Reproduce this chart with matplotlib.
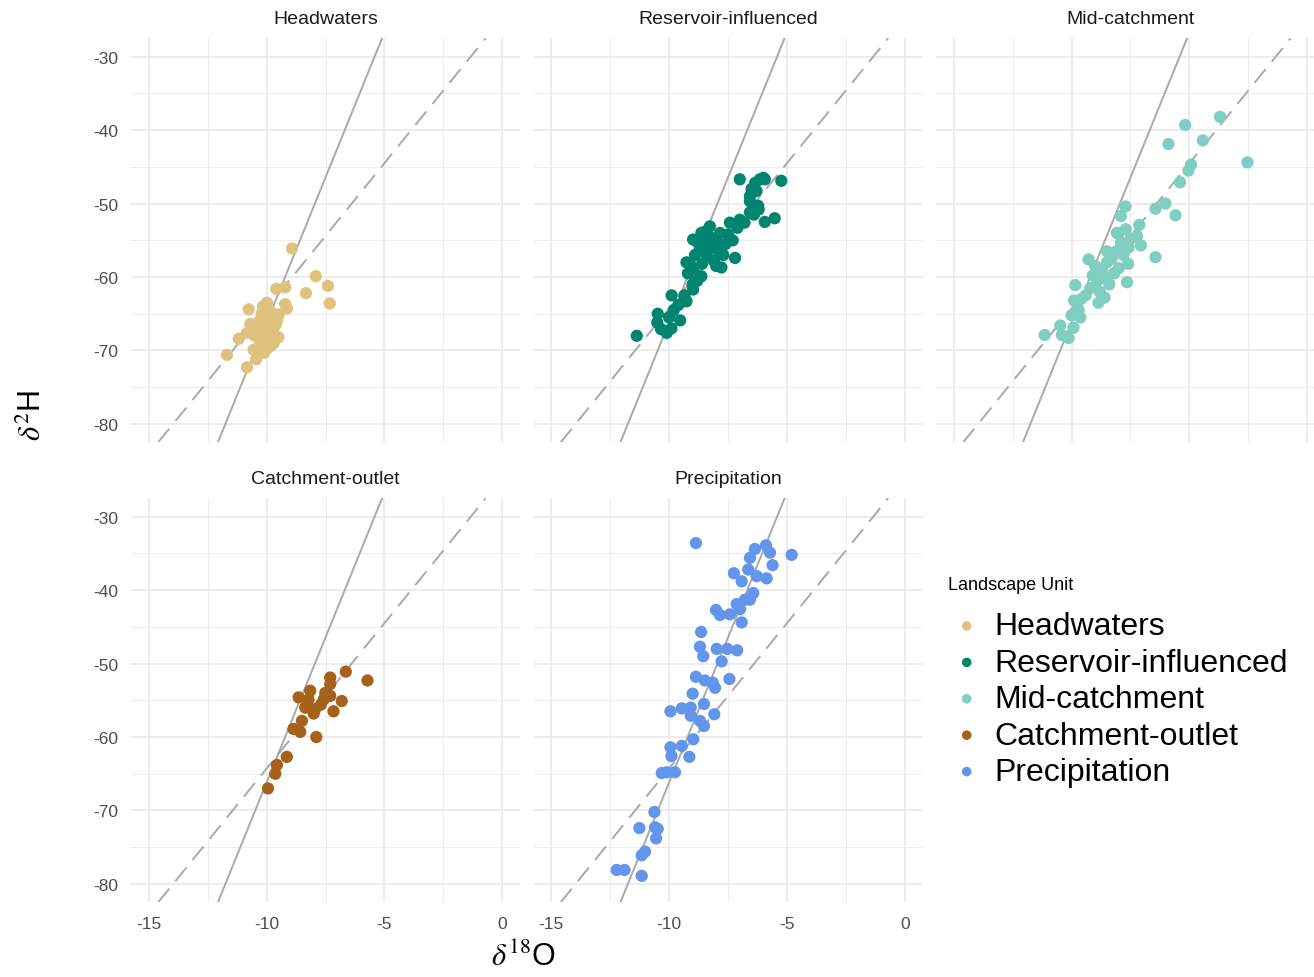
import numpy as np
import matplotlib
matplotlib.use("Agg")
import matplotlib.pyplot as plt
from matplotlib.ticker import MultipleLocator

plt.rcParams['font.family'] = ['Liberation Sans', 'DejaVu Sans']
plt.rcParams['mathtext.fontset'] = 'stix'

# isotope data (d18O, d2H)
hw_x = [-8.92, -7.91, -7.40, -7.32, -8.33, -9.59, -9.21, -9.21, -9.14, -10.76, -9.98, -10.15,
        -11.68, -10.83, -10.44, -11.18, -10.69, -9.56, -9.63, -9.84, -10.55,
        -10.3, -10.1, -9.9, -10.0, -10.4, -10.2, -9.8, -9.7, -9.6, -9.9, -10.5, -10.6,
        -10.3, -10.0, -9.7, -9.5, -10.2, -9.8, -10.4, -10.1, -9.6, -9.98, -9.48, -10.41, -10.83]
hw_y = [-56.1, -59.9, -61.2, -63.6, -62.2, -61.6, -61.4, -63.7, -64.3, -64.4, -63.5, -64.0,
        -70.6, -72.3, -71.2, -68.4, -66.4, -66.0, -68.4, -69.4, -69.9,
        -66.0, -66.8, -67.2, -68.0, -67.5, -68.8, -68.5, -67.0, -66.4, -65.5, -68.0, -67.0,
        -69.3, -69.8, -69.0, -68.2, -65.0, -64.8, -70.0, -70.3, -65.5, -64.7, -65.1, -67.1, -67.6]

res_x = [-11.37, -10.48, -9.89, -10.34, -10.10, -9.53, -9.26, -8.98, -9.26, -8.98, -8.63, -8.27,
         -7.84, -7.42, -7.0, -6.57, -7.0, -6.15, -5.94, -5.24, -6.57, -6.29, -6.57, -6.22,
         -5.94, -5.52, -7.2, -7.78, -8.63, -8.98,
         -8.5, -8.2, -8.0, -7.9, -8.4, -8.7, -8.1, -7.6, -7.5, -8.3, -8.9, -8.6, -7.7, -8.0,
         -7.3, -8.8, -8.45, -9.1, -9.2, -8.8, -9.0, -9.35, -9.6, -9.8, -10.0, -10.5, -9.9,
         -7.1, -6.8, -6.4, -6.2, -6.5, -6.35, -6.0]
res_y = [-68.0, -65.0, -62.5, -67.1, -67.6, -65.9, -63.3, -61.7, -58.0, -54.9, -54.0, -53.1,
         -54.0, -52.6, -52.2, -51.2, -46.7, -46.7, -46.7, -46.9, -49.0, -48.3, -49.7, -50.3,
         -52.5, -52.0, -57.4, -58.7, -59.9, -59.0,
         -55.5, -56.0, -55.0, -56.5, -57.0, -56.2, -57.8, -55.5, -54.2, -54.5, -57.0, -58.2,
         -57.0, -58.5, -55.0, -55.2, -53.8, -58.3, -59.5, -60.5, -61.0, -62.5, -63.8, -64.5,
         -65.5, -66.2, -67.0, -53.3, -52.6, -51.5, -50.8, -48.0, -47.2, -46.5]

mid_x = [-3.70, -5.18, -5.89, -4.43, -2.54, -4.93, -5.04, -5.40, -6.02, -6.44, -5.59, -7.71,
         -7.91, -7.13, -7.23, -7.06, -6.44, -7.58, -7.65, -8.08, -9.84, -9.89, -11.14, -10.48,
         -10.41, -10.13, -9.92, -9.63, -8.86, -9.28,
         -9.0, -8.7, -8.5, -8.3, -8.6, -8.9, -9.2, -8.2, -8.0, -7.8, -8.4, -9.4, -9.6, -8.8,
         -8.1, -7.9, -8.0, -7.7, -7.5, -8.5, -9.1, -9.7, -10.0, -8.6, -7.6]
mid_y = [-38.2, -39.3, -41.9, -41.4, -44.4, -44.7, -45.5, -47.1, -50.0, -50.7, -51.6, -50.4,
         -51.7, -52.9, -54.4, -55.7, -57.3, -56.0, -60.7, -54.0, -61.1, -63.2, -67.9, -66.6,
         -67.9, -68.3, -66.9, -65.5, -63.5, -57.6,
         -58.5, -59.0, -58.0, -57.5, -60.0, -60.5, -61.5, -59.5, -58.8, -57.0, -61.0, -62.5,
         -63.0, -62.0, -56.5, -55.3, -54.0, -53.5, -54.8, -56.5, -59.8, -64.5, -65.2, -62.8, -58.2]

out_x = [-6.64, -5.72, -7.30, -7.30, -8.64, -8.15, -8.22, -7.94, -7.51, -7.30, -6.81, -7.16,
         -7.58, -8.36, -8.50, -8.86, -8.57, -7.89, -9.14, -9.56, -9.63, -9.94, -8.0, -7.7]
out_y = [-51.1, -52.3, -51.9, -52.8, -54.6, -53.7, -54.9, -56.2, -54.0, -54.4, -55.1, -56.5,
         -54.9, -56.0, -57.8, -58.9, -59.3, -60.0, -62.7, -63.8, -65.0, -67.0, -56.8, -55.6]

pre_x = [-8.86, -5.89, -6.36, -5.72, -4.80, -6.57, -5.61, -6.64, -7.25, -6.92, -6.28, -5.86,
         -6.43, -6.57, -6.78, -7.13, -6.99, -8.01, -7.84, -7.42, -6.92, -8.64, -8.69, -8.55,
         -7.98, -7.53, -7.11, -7.77, -8.86, -8.48, -8.15, -8.05, -7.44, -9.0, -9.94, -9.46,
         -9.08, -9.08, -8.52, -8.69, -8.52, -8.08, -8.97, -9.94, -9.90, -9.46, -9.14, -10.31,
         -10.10, -9.75, -10.62, -11.26, -10.59, -10.48, -10.55, -11.02, -11.16, -12.22,
         -11.89, -11.16]
pre_y = [-33.6, -33.9, -34.4, -34.9, -35.2, -35.6, -36.6, -37.2, -37.7, -38.8, -38.1, -38.4,
         -40.4, -41.3, -41.3, -41.9, -42.6, -42.7, -43.4, -43.3, -44.4, -45.7, -47.7, -49.0,
         -48.0, -48.0, -48.2, -49.7, -51.8, -52.3, -52.6, -53.3, -52.1, -54.1, -56.5, -56.1,
         -56.0, -57.1, -55.5, -57.8, -58.5, -56.9, -60.3, -61.4, -62.6, -61.2, -62.7, -64.9,
         -64.8, -64.8, -70.2, -72.4, -72.3, -72.5, -73.8, -75.6, -76.1, -78.1, -78.1, -78.9]

units = ["Headwaters", "Reservoir-influenced", "Mid-catchment", "Catchment-outlet", "Precipitation"]
xs = [hw_x, res_x, mid_x, out_x, pre_x]
ys = [hw_y, res_y, mid_y, out_y, pre_y]
colors = ["#DFC27D", "#018571", "#80CDC1", "#A6611A", "#6495ED"]

# reference lines: solid (meteoric water line) and dashed
mwl_slope, mwl_icpt = 7.9, 12.8
el_slope, el_icpt = 3.96, -24.7

W, H = 1314, 978
fig = plt.figure(figsize=(W / 100, H / 100), dpi=100)

lefts = [131, 533.5, 936]
tops = [39.3, 499.3]
pw, ph = 389, 404

handles = []
for i, name in enumerate(units):
    r, c = divmod(i, 3)
    ax = fig.add_axes([lefts[c] / W, 1 - (tops[r] + ph) / H, pw / W, ph / H])
    ax.set_xlim(-15.75, 0.75)
    ax.set_ylim(-82.5, -27.5)
    ax.xaxis.set_major_locator(MultipleLocator(5))
    ax.xaxis.set_minor_locator(MultipleLocator(2.5))
    ax.yaxis.set_major_locator(MultipleLocator(10))
    ax.yaxis.set_minor_locator(MultipleLocator(5))
    ax.grid(which='major', color='#EBEBEB', lw=1.3)
    ax.grid(which='minor', color='#EBEBEB', lw=0.65)
    ax.set_axisbelow(True)
    for s in ax.spines.values():
        s.set_visible(False)
    ax.tick_params(which='both', length=0, labelsize=12.5, labelcolor='#4D4D4D')
    ax.tick_params(axis='y', pad=9)
    ax.tick_params(axis='x', pad=10)
    ax.xaxis.set_major_formatter(matplotlib.ticker.FuncFormatter(lambda v, p: f"{v:g}"))
    ax.yaxis.set_major_formatter(matplotlib.ticker.FuncFormatter(lambda v, p: f"{v:g}"))
    if c != 0:
        ax.set_yticklabels([])
    if r == 0:
        ax.set_xticklabels([])

    ax.axline((0, mwl_icpt), slope=mwl_slope, color='#A9A9A9', lw=1.4, zorder=2)
    ax.axline((0, el_icpt), slope=el_slope, color='#A9A9A9', lw=1.4, ls=(0, (9, 5)), zorder=2)
    h = ax.scatter(xs[i], ys[i], s=78, color=colors[i], edgecolors='none', zorder=3, label=name)
    handles.append(h)
    ax.text(0.5, 1 + 19.8 / ph, name, transform=ax.transAxes, ha='center', va='center',
            fontsize=14, color='#1A1A1A')

fig.text(523 / W, 1 - 958 / H, r'$\delta^{18}$O', ha='center', va='center', fontsize=22)
fig.text(33 / W, 1 - 415 / H, r'$\delta^{2}$H', ha='center', va='center', fontsize=22, rotation=90)

leg = fig.legend(handles=handles, labels=units, loc='upper left',
                 bbox_to_anchor=(926 / W, 1 - 555 / H), frameon=False,
                 title="Landscape Unit", title_fontsize=13, fontsize=23,
                 markerscale=0.78, handletextpad=0.28, labelspacing=0.2,
                 handlelength=1.15, borderpad=0.2)
leg._legend_box.align = "left"
leg._legend_box.sep = 13

fig.savefig("out.png", dpi=100)
